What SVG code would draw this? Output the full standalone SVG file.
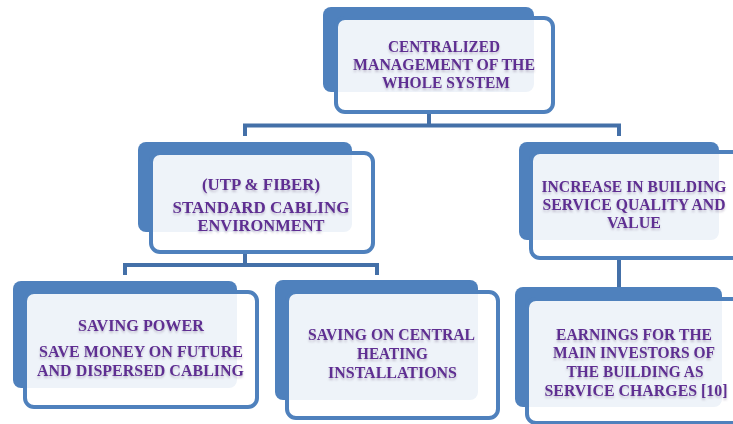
<svg xmlns="http://www.w3.org/2000/svg" width="733" height="424" viewBox="0 0 733 424">
<defs>
<filter id="sh" x="-2%" y="-30%" width="104%" height="170%">
<feDropShadow dx="0" dy="2" stdDeviation="1.2" flood-color="#8a7a99" flood-opacity="0.45"/>
</filter>
</defs>
<style>
.back{fill:#4F81BD}
.front{fill:#ffffff;fill-opacity:0.9;stroke:#4F81BD;stroke-width:4}
.lbl{font-family:"Liberation Serif","Times New Roman",serif;font-weight:bold;font-size:16.5px;fill:#5E2D92;text-anchor:middle;filter:url(#sh)}
.con{fill:none;stroke:#4470A8;stroke-width:4;stroke-linejoin:miter}
</style>
<rect width="733" height="424" fill="#ffffff"/>
<g id="connectors">
<path class="con" d="M429,112 V125.5 M245,136 V125.5 H619 V136"/>
<path class="con" d="M245,252 V265 M125,275 V265 H377 V275"/>
<path class="con" d="M619,260 V288"/>
</g>
<g id="n1">
<rect class="back" x="323" y="7" width="211" height="85" rx="8"/>
<rect class="front" x="336" y="18" width="217" height="94" rx="9"/>
<text class="lbl" x="444" y="51.5" textLength="112" lengthAdjust="spacingAndGlyphs">CENTRALIZED</text>
<text class="lbl" x="444" y="70" textLength="182" lengthAdjust="spacingAndGlyphs">MANAGEMENT OF THE</text>
<text class="lbl" x="446" y="88" textLength="128" lengthAdjust="spacingAndGlyphs">WHOLE SYSTEM</text>
</g>
<g id="n2">
<rect class="back" x="138" y="142" width="214" height="90" rx="8"/>
<rect class="front" x="151" y="153" width="222" height="99" rx="9"/>
<text class="lbl" x="261" y="190" textLength="118" lengthAdjust="spacingAndGlyphs">(UTP &amp; FIBER)</text>
<text class="lbl" x="261" y="212.5" textLength="177" lengthAdjust="spacingAndGlyphs">STANDARD CABLING</text>
<text class="lbl" x="261" y="230.5" textLength="127" lengthAdjust="spacingAndGlyphs">ENVIRONMENT</text>
</g>
<g id="n3">
<rect class="back" x="519" y="142" width="200" height="98" rx="8"/>
<rect class="front" x="531" y="152" width="210" height="106" rx="9"/>
<text class="lbl" x="634" y="192" textLength="185" lengthAdjust="spacingAndGlyphs">INCREASE IN BUILDING</text>
<text class="lbl" x="634" y="210" textLength="183" lengthAdjust="spacingAndGlyphs">SERVICE QUALITY AND</text>
<text class="lbl" x="634" y="228" textLength="54" lengthAdjust="spacingAndGlyphs">VALUE</text>
</g>
<g id="n4">
<rect class="back" x="13" y="281" width="224" height="107" rx="8"/>
<rect class="front" x="25" y="292" width="232" height="115" rx="9"/>
<text class="lbl" x="141" y="331" textLength="126" lengthAdjust="spacingAndGlyphs">SAVING POWER</text>
<text class="lbl" x="141" y="357" textLength="204" lengthAdjust="spacingAndGlyphs">SAVE MONEY ON FUTURE</text>
<text class="lbl" x="140.5" y="376" textLength="207" lengthAdjust="spacingAndGlyphs">AND DISPERSED CABLING</text>
</g>
<g id="n5">
<rect class="back" x="275" y="280" width="203" height="120" rx="8"/>
<rect class="front" x="287" y="292" width="211" height="126" rx="9"/>
<text class="lbl" x="391.5" y="340" textLength="167" lengthAdjust="spacingAndGlyphs">SAVING ON CENTRAL</text>
<text class="lbl" x="392.5" y="359" textLength="71" lengthAdjust="spacingAndGlyphs">HEATING</text>
<text class="lbl" x="392.5" y="378" textLength="129" lengthAdjust="spacingAndGlyphs">INSTALLATIONS</text>
</g>
<g id="n6">
<rect class="back" x="515" y="287" width="207" height="120" rx="8"/>
<rect class="front" x="527" y="299" width="214" height="124" rx="9"/>
<text class="lbl" x="634" y="340" textLength="156" lengthAdjust="spacingAndGlyphs">EARNINGS FOR THE</text>
<text class="lbl" x="634" y="358" textLength="162" lengthAdjust="spacingAndGlyphs">MAIN INVESTORS OF</text>
<text class="lbl" x="635" y="377" textLength="137" lengthAdjust="spacingAndGlyphs">THE BUILDING AS</text>
<text class="lbl" x="636" y="396" textLength="183" lengthAdjust="spacingAndGlyphs">SERVICE CHARGES [10]</text>
</g>
</svg>
